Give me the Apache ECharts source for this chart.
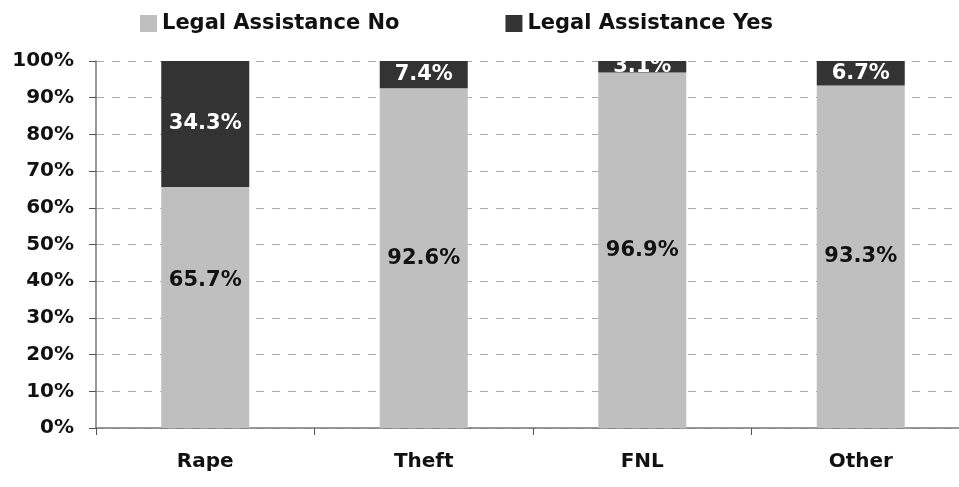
<!DOCTYPE html>
<html><head><meta charset="utf-8">
<script src="https://cdn.jsdelivr.net/npm/echarts@6/dist/echarts.min.js"></script>
<style>html,body{margin:0;padding:0;background:#fff;overflow:hidden;width:959px;height:487px}#c{width:980px;height:487px}</style>
</head><body><div id="c"></div>
<script>
const categories = ['Rape', 'Theft', 'FNL', 'Other'];
const legalNo = [65.7, 92.6, 96.9, 93.3];
const legalYes = [34.3, 7.4, 3.1, 6.7];
const seriesNames = ['Legal Assistance No', 'Legal Assistance Yes'];
const yTicks = [0, 10, 20, 30, 40, 50, 60, 70, 80, 90, 100];

const FONT = '"DejaVu Sans", sans-serif';
const chart = echarts.init(document.getElementById('c'), null, {renderer: 'canvas'});
chart.setOption({
  animation: false,
  textStyle: {fontFamily: FONT},
  legend: {
    top: 8, left: 135, itemGap: 106, itemWidth: 17, itemHeight: 17, icon: 'rect',
    textStyle: {fontSize: 21, fontWeight: 'bold', color: '#111', fontFamily: FONT},
    data: seriesNames
  },
  grid: {left: 96, right: 10, top: 61, bottom: 59, containLabel: false},
  xAxis: {
    type: 'category', data: categories,
    axisLine: {lineStyle: {color: '#777', width: 1.5}},
    axisTick: {show: true, length: 7, lineStyle: {color: '#555'}},
    axisLabel: {fontSize: 20, fontWeight: 'bold', color: '#111', margin: 24, fontFamily: FONT}
  },
  yAxis: {
    type: 'value', min: 0, max: 100, interval: 10,
    axisLine: {show: true, lineStyle: {color: '#777', width: 1.5}},
    axisTick: {show: true, length: 7, lineStyle: {color: '#555'}},
    splitLine: {show: true, lineStyle: {color: '#aaa', type: [8, 8], width: 1}},
    axisLabel: {fontSize: 20, fontWeight: 'bold', color: '#111', margin: 22, fontFamily: FONT,
      formatter: v => yTicks.includes(v) ? v + '%' : ''}
  },
  series: [
    {
      name: seriesNames[0], type: 'bar', stack: 's', barWidth: 88,
      itemStyle: {color: '#bfbfbf'},
      label: {show: true, position: 'inside', color: '#111', fontSize: 21, fontWeight: 'bold',
        fontFamily: FONT, formatter: p => p.value.toFixed(1) + '%'},
      data: legalNo.map((v, i) => i === 0 ? {value: v, label: {offset: [0, -27]}} : v)
    },
    {
      name: seriesNames[1], type: 'bar', stack: 's', barWidth: 88,
      itemStyle: {color: '#333333'},
      label: {show: true, position: 'inside', color: '#fff', fontSize: 21, fontWeight: 'bold',
        fontFamily: FONT, formatter: p => p.value.toFixed(1) + '%'},
      data: legalYes
    }
  ]
});
</script></body></html>
